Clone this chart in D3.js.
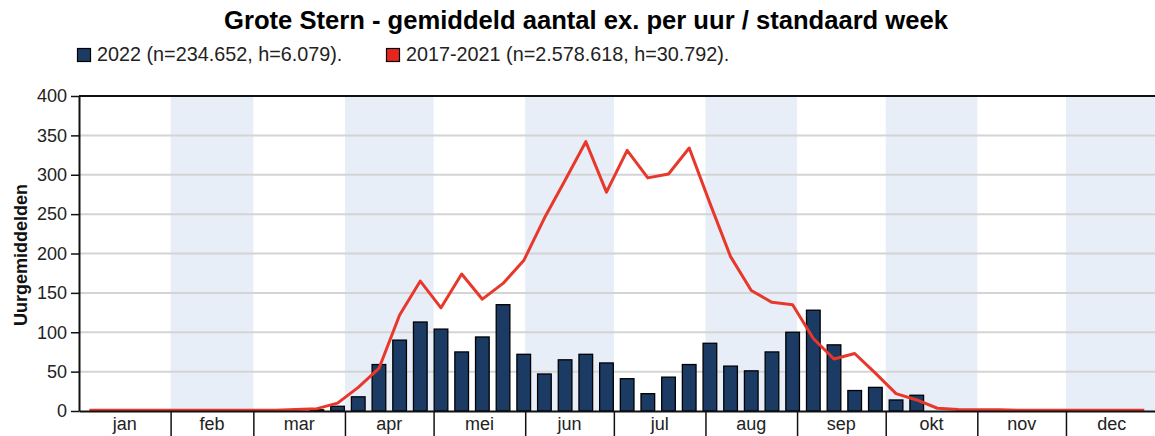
<!DOCTYPE html>
<html>
<head>
<meta charset="utf-8">
<script src="https://cdn.jsdelivr.net/npm/d3@7"></script>
<style>
  body { margin: 0; background: #fff; }
  svg { display: block; font-family: "Liberation Sans", Arial, sans-serif; }
</style>
</head>
<body>
<div id="plot"></div>
<script>
// standaard weken 1..52
var weeks = d3.range(1, 53);

// 2022 - gemiddeld aantal per uur (staven)
var values2022 = [
  0, 0, 0, 0, 0, 0, 0, 0, 0, 0,
  0, 1.5, 6, 18, 59, 90, 113, 104, 75, 94,
  135, 72, 47, 65, 72, 61, 41, 22, 43, 59,
  86, 57, 51, 75, 100, 128, 84, 26, 30, 14,
  20, 0, 0, 0, 0, 0, 0, 0, 0, 0,
  0, 0
];

// 2017-2021 - gemiddeld aantal per uur (lijn)
var values2017_2021 = [
  1, 1, 1, 1, 1, 1, 1, 1, 1, 1,
  2, 3, 10, 30, 54, 122, 165, 131, 174, 142,
  162, 191, 245, 293, 342, 278, 331, 296, 301, 334,
  264, 196, 153, 138, 135, 92, 66, 73, 48, 22,
  14, 3.5, 2, 1.5, 1.5, 1, 1, 1, 1, 1,
  1, 1
];

var months = ["jan", "feb", "mar", "apr", "mei", "jun", "jul", "aug", "sep", "okt", "nov", "dec"];
var monthDays = [31, 28, 31, 30, 31, 30, 31, 31, 30, 31, 30, 31];
var yTicks = [0, 50, 100, 150, 200, 250, 300, 350, 400];

var legendLabels = ["2022 (n=234.652, h=6.079).", "2017-2021 (n=2.578.618, h=30.792)."];
var title = "Grote Stern - gemiddeld aantal ex. per uur / standaard week";

var W = 1155, H = 436;
var margin = {top: 96, left: 79, bottom: 25};
var pxPerDay = 2.955;
var plotRight = margin.left + 365 * pxPerDay;
var plotBottom = H - margin.bottom;

var colBar = "#1b3b64", colLine = "#e8372b", colShade = "#e7eef8", colGrid = "#d4d4d4";

var svg = d3.select("#plot").append("svg")
  .attr("width", W).attr("height", H);

// month start days
var monthStart = [];
var acc = 0;
monthDays.forEach(function(d) { monthStart.push(acc); acc += d; });

// scales
var xDay = d3.scaleLinear().domain([0, 365]).range([margin.left, plotRight]);
var x = d3.scaleBand()
  .domain(weeks)
  .range([margin.left, margin.left + 364 * pxPerDay])
  .paddingInner(0.34)
  .paddingOuter(0.17);
var y = d3.scaleLinear().domain([0, 400]).range([plotBottom, margin.top]);

// shaded months
svg.append("g")
  .selectAll("rect")
  .data(months.map(function(m, i) { return i; }).filter(function(i) { return i % 2 == 1; }))
  .enter()
  .append("rect")
    .attr("x", function(i) { return xDay(monthStart[i]); })
    .attr("width", function(i) { return xDay(monthStart[i] + monthDays[i]) - xDay(monthStart[i]); })
    .attr("y", margin.top)
    .attr("height", plotBottom - margin.top)
    .style("fill", colShade);

// grid lines
svg.append("g")
  .selectAll("line")
  .data(yTicks.filter(function(t) { return t > 0 && t < 400; }))
  .enter()
  .append("line")
    .attr("x1", margin.left).attr("x2", W)
    .attr("y1", function(d) { return y(d); })
    .attr("y2", function(d) { return y(d); })
    .style("stroke", colGrid)
    .style("stroke-width", 2);

// top border
svg.append("line")
  .attr("x1", margin.left).attr("x2", W)
  .attr("y1", y(400)).attr("y2", y(400))
  .style("stroke", "#111").style("stroke-width", 2);

// bars 2022
svg.append("g")
  .selectAll("rect")
  .data(weeks.filter(function(w, i) { return values2022[i] > 0; }))
  .enter()
  .append("rect")
    .attr("x", function(w) { return x(w); })
    .attr("width", x.bandwidth())
    .attr("y", function(w) { return y(values2022[w - 1]); })
    .attr("height", function(w) { return y(0) - y(values2022[w - 1]); })
    .style("fill", colBar)
    .style("stroke", "#000")
    .style("stroke-width", 1.3);

// line 2017-2021
var line = d3.line()
  .x(function(w) { return x(w) + x.bandwidth() / 2; })
  .y(function(w) { return y(values2017_2021[w - 1]); });

svg.append("path")
  .datum(weeks)
  .attr("d", line)
  .style("fill", "none")
  .style("stroke", colLine)
  .style("stroke-width", 3)
  .style("stroke-linejoin", "round");

// y axis
var yAxis = svg.append("g")
  .attr("transform", "translate(" + margin.left + ",0)")
  .call(d3.axisLeft(y).tickValues(yTicks).tickSize(8).tickSizeOuter(0).tickPadding(4));
yAxis.select(".domain").style("stroke", "#111").style("stroke-width", 2);
yAxis.selectAll(".tick line").style("stroke", "#111").style("stroke-width", 1.5);
yAxis.selectAll("text")
  .style("font-size", "18px")
  .style("fill", "#222")
  .style("font-family", "Liberation Sans, Arial, sans-serif");

// x axis: baseline + month separators
var xAxis = svg.append("g")
  .attr("transform", "translate(0," + plotBottom + ")")
  .call(d3.axisBottom(xDay).tickValues(monthStart.slice(1)).tickSize(H - plotBottom).tickSizeOuter(0).tickFormat(""));
xAxis.select(".domain").style("stroke", "#111").style("stroke-width", 2);
xAxis.selectAll(".tick line").style("stroke", "#111").style("stroke-width", 1.5);

// month labels
svg.append("g")
  .selectAll("text")
  .data(months)
  .enter()
  .append("text")
    .attr("x", function(m, i) { return xDay(monthStart[i] + monthDays[i] / 2); })
    .attr("y", 430)
    .attr("text-anchor", "middle")
    .style("font-size", "18px")
    .style("fill", "#222")
    .text(function(m) { return m; });

// y label
svg.append("text")
  .attr("transform", "translate(27,255) rotate(-90)")
  .attr("text-anchor", "middle")
  .style("font-size", "18px")
  .style("font-weight", "bold")
  .style("fill", "#111")
  .text("Uurgemiddelden");

// title
svg.append("text")
  .attr("x", 586)
  .attr("y", 29)
  .attr("text-anchor", "middle")
  .style("font-size", "25.6px")
  .style("font-weight", "bold")
  .style("fill", "#000")
  .text(title);

// legend
var legendX = [77, 386];
var legendColors = [colBar, "#e5261e"];
var lg = svg.append("g")
  .selectAll("g")
  .data(legendLabels)
  .enter()
  .append("g")
    .attr("transform", function(d, i) { return "translate(" + legendX[i] + ",48)"; });
lg.append("rect")
  .attr("x", 0.5).attr("y", 0.5)
  .attr("width", 13).attr("height", 13)
  .style("fill", function(d, i) { return legendColors[i]; })
  .style("stroke", "#000")
  .style("stroke-width", 1.2);
lg.append("text")
  .attr("x", 20)
  .attr("y", 13)
  .style("font-size", "19.8px")
  .style("fill", "#222")
  .text(function(d) { return d; });
</script>
</body>
</html>
